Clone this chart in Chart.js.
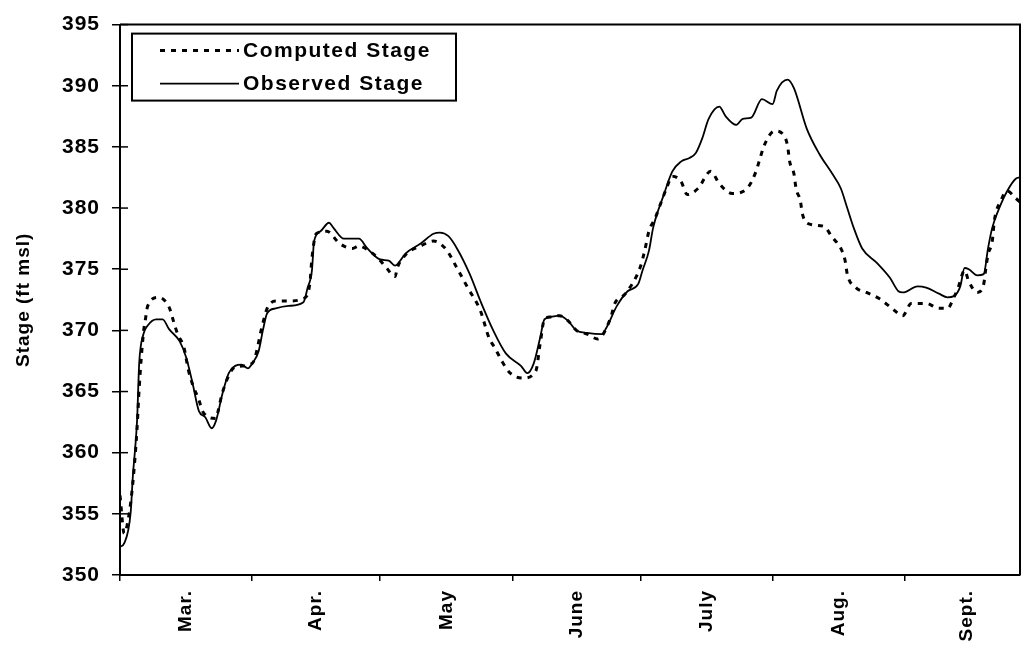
<!DOCTYPE html>
<html>
<head>
<meta charset="utf-8">
<script src="https://cdn.jsdelivr.net/npm/chart.js@4"></script>
<style>
  html, body { margin: 0; padding: 0; background: #fff; }
  #wrap { width: 1024px; height: 646px; position: relative; }
</style>
</head>
<body>
<div id="wrap"><canvas id="grafico"></canvas></div>
<script>
// days counted from Mar. 1
const compDays = [0,1,2,3,4,4.5,5.5,6,6.5,9,
  11.5,12.5,13.5,15,16,17,18.5,19.5,22.5,23,
  24,27,31,33.5,34.5,36.5,39.5,43,44.5,45,
  46,48.5,51.5,54.5,56,58,60.5,62.5,64.5,65,
  67,70.5,73.5,76.5,79,81.5,84.5,86.5,88,89.5,
  91.5,94.5,97.5,98.5,99.5,101,103,105,107,109.5,
  112,115,116,118.5,122,123,124,125.5,127,128,
  129.5,131.5,133,135.5,138.5,140.5,143.5,147,149,150,
  151,153.5,155.5,156.5,157,158,158.5,159.5,160,161.5,
  165,167,169,170,170.5,172.5,175,178,181,183.5,
  185.5,189,192,194,195.5,196.5,198,199,201,202.5,
  203,203.5,204.5,205,206.5,208,210,211];
const compStage = [356.5,353.4,354.7,357.5,362.0,365.3,369.8,371.0,372.0,372.7,
  371.9,370.8,369.7,368.6,366.8,365.6,364.3,363.3,362.8,363.4,
  364.9,367.0,367.3,370.6,371.8,372.4,372.4,372.6,373.8,375.9,
  377.9,378.1,377.1,376.7,376.9,376.6,375.9,375.1,374.4,375.1,
  376.2,376.9,377.3,376.6,375.1,373.5,371.6,369.4,368.5,367.5,
  366.5,366.1,366.7,368.9,370.9,371.1,371.2,370.8,370.0,369.7,
  369.3,371.0,372.2,373.0,375.2,376.5,378.1,379.2,380.6,381.5,
  382.6,382.2,381.1,381.6,383.0,382.0,381.2,381.6,382.9,384.0,
  385.1,386.3,386.0,385.1,383.8,382.8,381.6,380.6,379.5,378.7,
  378.5,377.6,376.7,375.7,374.6,373.5,373.1,372.6,371.8,371.2,
  372.2,372.2,371.8,371.8,372.7,373.5,374.9,374.0,373.1,373.8,
  375.1,376.2,377.3,379.0,380.6,381.4,380.8,380.5];

const obsDays = [0,1,2.5,3,4,4.5,5.5,6.5,8.5,10,
  11.5,14,15.5,17,18.5,20,21.5,22.5,24,25.5,
  27,28.5,30,31,32.5,33.5,34.5,36.5,39.5,43,
  44,45,45.5,47,49,50,52.5,56,58,61,
  63,64.5,65,67,70.5,73.5,75,77,79,82,
  84.5,87.5,90.5,94,95.5,97,98.5,99.5,101,103,
  105,107,109.5,113,114,116.5,119,121.5,122.5,124,
  125,127.5,129.5,131.5,133.5,135,136.5,138,140.5,142,
  144.5,146,148,150.5,153,154,156.5,158,161,164,
  167,169,170.5,172,174,177.5,180.5,182.5,183.5,187,
  189,192,194,195.5,197,198,199,201,202.5,203.5,
  204.5,206.5,208,210,211];
const obsStage = [352.3,352.6,355.1,358.0,362.6,367.3,369.7,370.4,370.9,370.9,
  370.1,369.1,367.8,365.7,363.4,362.9,362.0,362.6,364.8,366.5,
  367.1,367.2,366.9,367.3,368.3,370.0,371.4,371.8,372.0,372.3,
  373.5,374.9,377.3,378.1,378.8,378.4,377.5,377.5,376.7,375.8,
  375.7,375.3,375.4,376.3,377.1,377.9,378.0,377.7,376.7,374.6,
  372.4,370.0,368.1,367.1,366.5,367.3,369.4,370.9,371.1,371.2,
  370.8,370.0,369.8,369.7,370.2,372.0,373.2,373.8,374.9,376.5,
  378.4,381.1,383.0,383.8,384.1,384.5,385.7,387.3,388.3,387.5,
  386.8,387.3,387.4,388.9,388.5,389.6,390.5,389.8,386.5,384.4,
  382.8,381.6,380.0,378.4,376.7,375.5,374.3,373.2,373.1,373.6,
  373.5,373.0,372.7,372.8,373.6,375.1,375.0,374.5,374.6,376.7,
  378.4,380.3,381.4,382.4,382.5];

const monthStarts = [0, 31, 61, 92, 122, 153, 184];
const monthMids = [15.5, 46, 76.5, 107, 137.5, 168.5, 198.5];
const monthLabels = ['Mar.', 'Apr.', 'May', 'June', 'July', 'Aug.', 'Sept.'];
const yTicks = [350, 355, 360, 365, 370, 375, 380, 385, 390, 395];

const fonte = "'Liberation Sans', Arial, Helvetica, sans-serif";

function pontos(xs, ys) {
  return xs.map((x, i) => ({ x: x, y: ys[i] }));
}

// moldura, marcas internas do eixo y e legenda dentro do grafico
const moldura = {
  id: 'moldura',
  beforeDraw(chart) {
    // texto um pouco mais largo, como no original
    chart.ctx.letterSpacing = '1px';
  },
  afterDraw(chart) {
    const ctx = chart.ctx;
    const a = chart.chartArea;
    const yScale = chart.scales.y;
    ctx.save();
    ctx.strokeStyle = '#000';
    ctx.lineWidth = 2;
    ctx.beginPath();
    ctx.moveTo(a.left, a.top);
    ctx.lineTo(a.right, a.top);
    ctx.lineTo(a.right, a.bottom);
    ctx.stroke();

    ctx.lineWidth = 1.5;
    yTicks.forEach(v => {
      const y = yScale.getPixelForValue(v);
      ctx.beginPath();
      ctx.moveTo(a.left, y);
      ctx.lineTo(a.left + 8, y);
      ctx.stroke();
    });

    // legenda
    const lx = a.left + 12, ly = a.top + 9, lw = 324, lh = 67;
    ctx.fillStyle = '#fff';
    ctx.fillRect(lx, ly, lw, lh);
    ctx.lineWidth = 2;
    ctx.strokeRect(lx, ly, lw, lh);
    chart.data.datasets.forEach((ds, i) => {
      const y = ly + 17 + i * 33;
      ctx.beginPath();
      ctx.setLineDash(ds.borderDash || []);
      ctx.lineWidth = ds.borderWidth;
      ctx.moveTo(lx + 28, y);
      ctx.lineTo(lx + 107, y);
      ctx.stroke();
      ctx.setLineDash([]);
      ctx.fillStyle = '#000';
      ctx.letterSpacing = '1.5px';
      ctx.font = 'bold 21px ' + fonte;
      ctx.textBaseline = 'middle';
      ctx.textAlign = 'left';
      ctx.fillText(ds.label, lx + 111, y + 1);
    });
    ctx.restore();
  }
};

const ctx = document.getElementById('grafico').getContext('2d');
const grafico = new Chart(ctx, {
  type: 'line',
  data: {
    datasets: [{
      label: 'Computed Stage',
      data: pontos(compDays, compStage),
      borderColor: '#000',
      borderWidth: 3,
      borderDash: [5, 6],
      pointRadius: 0,
      cubicInterpolationMode: 'monotone',
      fill: false
    }, {
      label: 'Observed Stage',
      data: pontos(obsDays, obsStage),
      borderColor: '#000',
      borderWidth: 1.8,
      pointRadius: 0,
      cubicInterpolationMode: 'monotone',
      fill: false
    }]
  },
  options: {
    responsive: true,
    maintainAspectRatio: false,
    animation: false,
    layout: { padding: { top: 23, right: 4, left: 0, bottom: 0 } },
    plugins: {
      legend: { display: false },
      tooltip: { enabled: false }
    },
    scales: {
      x: {
        type: 'linear',
        min: 0,
        max: 211,
        afterBuildTicks: (s) => {
          s.ticks = monthStarts.concat(monthMids).sort((a, b) => a - b).map(v => ({ value: v }));
        },
        afterFit: (s) => { s.height = 71; },
        ticks: {
          autoSkip: false,
          minRotation: 90,
          maxRotation: 90,
          padding: 9,
          color: '#000',
          font: { family: fonte, size: 19, weight: 'bold' },
          callback: (v) => {
            const i = monthMids.indexOf(v);
            return i >= 0 ? monthLabels[i] : '';
          }
        },
        grid: {
          drawOnChartArea: false,
          tickLength: 6,
          lineWidth: 1.5,
          tickColor: (c) => (c.tick && monthStarts.indexOf(c.tick.value) >= 0) ? '#000' : 'rgba(0,0,0,0)'
        },
        border: { color: '#000', width: 2 }
      },
      y: {
        min: 350,
        max: 395,
        afterBuildTicks: (s) => { s.ticks = yTicks.map(v => ({ value: v })); },
        afterFit: (s) => { s.width = 120; },
        ticks: {
          padding: 12,
          color: '#000',
          font: { family: fonte, size: 21, weight: 'bold' }
        },
        grid: {
          drawOnChartArea: false,
          tickLength: 8,
          lineWidth: 1.5,
          tickColor: '#000'
        },
        border: { color: '#000', width: 2 },
        title: {
          display: true,
          text: 'Stage (ft msl)',
          color: '#000',
          padding: { top: 12, bottom: 0 },
          font: { family: fonte, size: 19, weight: 'bold' }
        }
      }
    }
  },
  plugins: [moldura]
});
</script>
</body>
</html>
